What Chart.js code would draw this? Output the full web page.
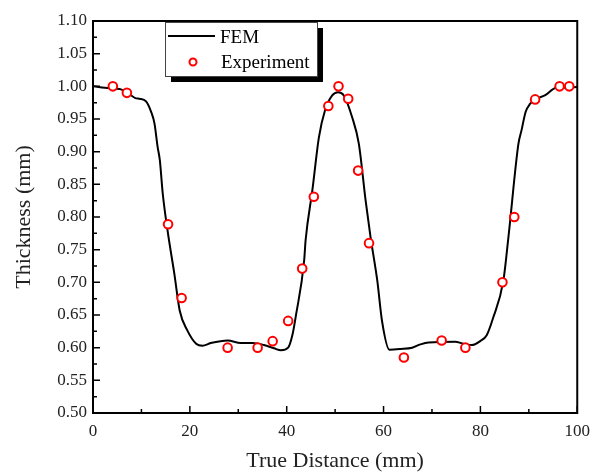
<!DOCTYPE html>
<html>
<head>
<meta charset="utf-8">
<script src="https://cdn.jsdelivr.net/npm/chart.js@4.4.1/dist/chart.umd.min.js"></script>
<style>
  html, body { margin: 0; padding: 0; background: #fff; }
  #wrap { width: 598px; height: 472px; }
</style>
</head>
<body>
<div id="wrap"><canvas id="c" width="598" height="472"></canvas></div>
<script>
// FEM simulation curve (mm, mm)
const femX = [0, 3.4, 5.5, 7.5, 8.75, 9.6, 10.95, 12.0, 12.7, 13.35, 13.8, 14.4, 15.4, 16.8, 17.9, 19.5,
  21.3, 22.6, 24.3, 27.8, 30.5, 32.9, 35.3, 37.4, 38.8, 40.3, 41.2, 41.9, 43.6, 43.9, 45.3, 46.65,
  47.9, 49.4, 50.6, 51.8, 53.5, 54.9, 56.3, 57.3, 58.7, 59.7, 61.2, 63.5, 65.9, 67.6, 69.3, 74.8,
  76.5, 78.2, 79.95, 81.3, 82.6, 84.75, 85.8, 87.85, 88.5, 89.35, 90.25, 91.5, 93.3, 95.7, 97.8, 100];
const femY = [1.000, 0.997, 0.996, 0.988, 0.982, 0.981, 0.977, 0.961, 0.943, 0.907, 0.887, 0.836, 0.779, 0.713, 0.657, 0.626,
  0.606, 0.603, 0.607, 0.611, 0.607, 0.607, 0.604, 0.599, 0.596, 0.600, 0.620, 0.649, 0.733, 0.764, 0.841, 0.922,
  0.963, 0.986, 0.991, 0.986, 0.953, 0.912, 0.825, 0.770, 0.703, 0.640, 0.597, 0.598, 0.600, 0.605, 0.608, 0.609,
  0.606, 0.604, 0.610, 0.619, 0.645, 0.703, 0.770, 0.912, 0.933, 0.961, 0.973, 0.981, 0.986, 0.998, 0.998, 0.999];

// measured thickness
const expX = [4.1, 7.0, 15.5, 18.3, 27.8, 34.0, 37.1, 40.3, 43.2, 45.6, 48.6, 50.7, 52.7, 54.75, 57.0,
  64.2, 72.0, 76.9, 84.55, 87.0, 91.3, 96.35, 98.35];
const expY = [1.00, 0.99, 0.789, 0.676, 0.60, 0.60, 0.61, 0.641, 0.721, 0.831, 0.970, 1.00, 0.981, 0.871, 0.760,
  0.585, 0.611, 0.600, 0.70, 0.80, 0.98, 1.00, 1.00];

const seriesNames = ['FEM', 'Experiment'];
const xMajor = [0, 20, 40, 60, 80, 100];
const xMinor = [10, 30, 50, 70, 90];

const serif = "'Liberation Serif', 'Times New Roman', serif";

// frame, inward ticks and the boxed legend with its drop shadow
const framePlugin = {
  id: 'frame',
  afterDatasetsDraw(chart) {
    const ctx = chart.ctx;
    const a = chart.chartArea;
    const xs = chart.scales.x, ys = chart.scales.y;
    ctx.save();
    ctx.strokeStyle = '#000';
    ctx.lineWidth = 1.5;
    ctx.beginPath();
    xMajor.forEach(v => { const p = xs.getPixelForValue(v); ctx.moveTo(p, a.bottom); ctx.lineTo(p, a.bottom - 7); });
    xMinor.forEach(v => { const p = xs.getPixelForValue(v); ctx.moveTo(p, a.bottom); ctx.lineTo(p, a.bottom - 4); });
    for (let i = 0; i <= 24; i++) {
      const p = ys.getPixelForValue(0.5 + i * 0.025);
      const len = i % 2 === 0 ? 7 : 4;
      ctx.moveTo(a.left, p); ctx.lineTo(a.left + len, p);
    }
    ctx.stroke();
    ctx.lineWidth = 2;
    ctx.strokeRect(a.left, a.top, a.right - a.left, a.bottom - a.top);

    // legend
    const lx = 165, ly = 22, lw = 152, lh = 54;
    ctx.fillStyle = '#000';
    ctx.fillRect(lx + 6, ly + 6, lw, lh);
    ctx.fillStyle = '#fff';
    ctx.fillRect(lx, ly, lw, lh);
    ctx.lineWidth = 1;
    ctx.strokeStyle = '#444';
    ctx.strokeRect(lx + 0.5, ly + 0.5, lw, lh);
    ctx.strokeStyle = '#000';
    ctx.lineWidth = 2;
    ctx.beginPath();
    ctx.moveTo(168, 36); ctx.lineTo(215, 36);
    ctx.stroke();
    ctx.strokeStyle = '#ff0000';
    ctx.beginPath();
    ctx.arc(193, 62, 3.5, 0, Math.PI * 2);
    ctx.stroke();
    ctx.fillStyle = '#000';
    ctx.font = '19px ' + serif;
    ctx.textBaseline = 'middle';
    ctx.fillText(seriesNames[0], 220, 38);
    ctx.fillText(seriesNames[1], 221, 63);
    ctx.restore();
  }
};

new Chart(document.getElementById('c'), {
  type: 'scatter',
  data: {
    datasets: [
      {
        label: seriesNames[0],
        data: femX.map((x, i) => ({ x: x, y: femY[i] })),
        showLine: true,
        borderColor: '#000',
        borderWidth: 2,
        pointRadius: 0,
        cubicInterpolationMode: 'monotone',
        order: 2
      },
      {
        label: seriesNames[1],
        data: expX.map((x, i) => ({ x: x, y: expY[i] })),
        showLine: false,
        borderColor: '#ff0000',
        backgroundColor: '#fff',
        borderWidth: 2,
        pointRadius: 4.3,
        order: 1
      }
    ]
  },
  options: {
    responsive: false,
    animation: false,
    layout: { padding: { left: 0, top: 21, right: 19, bottom: 0 } },
    plugins: { legend: { display: false }, tooltip: { enabled: false } },
    scales: {
      x: {
        type: 'linear', min: 0, max: 100,
        afterFit: s => { s.height = 59; },
        grid: { display: false, drawTicks: false },
        border: { display: false },
        ticks: { stepSize: 20, padding: 8, color: '#222', font: { family: serif, size: 17 } },
        title: { display: true, text: 'True Distance (mm)', color: '#222', padding: { top: 0, bottom: -2 },
          font: { family: serif, size: 22 } }
      },
      y: {
        type: 'linear', min: 0.5, max: 1.1,
        afterFit: s => { s.width = 93; },
        grid: { display: false, drawTicks: false },
        border: { display: false },
        ticks: { stepSize: 0.05, padding: 6, color: '#222', font: { family: serif, size: 17 },
          callback: v => v.toFixed(2) },
        title: { display: true, text: 'Thickness (mm)', color: '#222', padding: { top: 11, bottom: 0 },
          font: { family: serif, size: 22 } }
      }
    }
  },
  plugins: [framePlugin]
});
</script>
</body>
</html>
